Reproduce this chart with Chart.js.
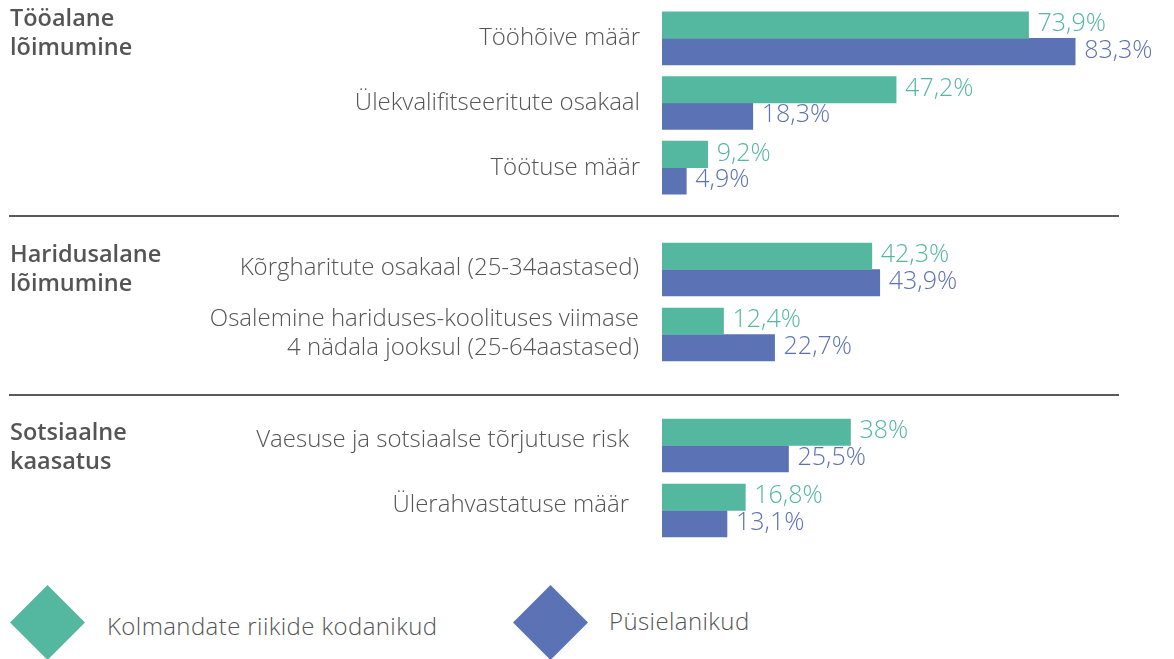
<!DOCTYPE html>
<html>
<head>
<meta charset="utf-8">
<script src="https://cdn.jsdelivr.net/npm/chart.js@4"></script>
<style>
  html, body { margin: 0; padding: 0; background: #fff; }
  #page { position: relative; width: 1174px; height: 659px; overflow: hidden; font-family: "Open Sans", "Noto Sans", sans-serif; }
  .chartBox { position: absolute; left: 0; width: 1174px; }
  .groupTitle { position: absolute; left: 10px; font-weight: 600; font-size: 23.5px; line-height: 29px; color: #555; }
  .sep { position: absolute; left: 9px; width: 1110px; height: 1.5px; background: #5a5a5a; }
  .legendItem { position: absolute; font-size: 24px; letter-spacing: 0.4px; font-weight: 300; color: #555; }
  .diamond { position: absolute; width: 53px; height: 53px; transform: rotate(45deg); }
</style>
</head>
<body>
<div id="page">
  <div class="chartBox" style="top:6px;height:194px"><canvas id="chart1"></canvas></div>
  <div class="chartBox" style="top:237px;height:130px"><canvas id="chart2"></canvas></div>
  <div class="chartBox" style="top:413px;height:130px"><canvas id="chart3"></canvas></div>
  <div class="sep" style="top:215px"></div>
  <div class="sep" style="top:394px"></div>
  <div id="titles"></div>
  <div id="legend"></div>
</div>
<script>
// Data
const seriesNames = ['Kolmandate riikide kodanikud', 'Püsielanikud'];
const seriesColors = ['#54b7a0', '#5b72b5'];

const groupTitles = [
    ['Tööalane', 'lõimumine'],
    ['Haridusalane', 'lõimumine'],
    ['Sotsiaalne', 'kaasatus']
];

const categories1 = ['Tööhõive määr', 'Ülekvalifitseeritute osakaal', 'Töötuse määr'];
const thirdCountry1 = [73.9, 47.2, 9.2];
const permanent1 = [83.3, 18.3, 4.9];

const categories2 = ['Kõrgharitute osakaal (25-34aastased)', ['Osalemine hariduses-koolituses viimase', '4 nädala jooksul (25-64aastased)']];
const thirdCountry2 = [42.3, 12.4];
const permanent2 = [43.9, 22.7];

const categories3 = ['Vaesuse ja sotsiaalse tõrjutuse risk', 'Ülerahvastatuse määr'];
const thirdCountry3 = [38, 16.8];
const permanent3 = [25.5, 13.1];

const FONT = '"Open Sans", "Noto Sans", sans-serif';

// Value labels at the end of each bar
const valueLabels = {
    id: 'valueLabels',
    afterDatasetsDraw(chart) {
        const ctx = chart.ctx;
        ctx.save();
        ctx.font = '300 25px ' + FONT;
        ctx.textBaseline = 'middle';
        ctx.textAlign = 'left';
        chart.data.datasets.forEach((ds, i) => {
            chart.getDatasetMeta(i).data.forEach((bar, j) => {
                ctx.fillStyle = ds.backgroundColor;
                ctx.fillText(String(ds.data[j]).replace('.', ',') + '%', bar.x + 9, bar.y - 1);
            });
        });
        ctx.restore();
    }
};

function makeChart(id, labels, third, perm, labelPad, labelShift) {
    return new Chart(document.getElementById(id), {
        type: 'bar',
        data: {
            labels: labels,
            datasets: [
                { label: seriesNames[0], data: third, backgroundColor: seriesColors[0] },
                { label: seriesNames[1], data: perm, backgroundColor: seriesColors[1] }
            ]
        },
        options: {
            indexAxis: 'y',
            responsive: true,
            maintainAspectRatio: false,
            animation: false,
            layout: { padding: { left: 0, top: 0, bottom: 0, right: 16 }, autoPadding: false },
            barThickness: 26.5,
            plugins: {
                legend: { display: false },
                tooltip: { enabled: false }
            },
            scales: {
                x: {
                    display: false,
                    min: 0,
                    max: 100
                },
                y: {
                    afterFit: function(scale) {
                        scale.width = 662;
                        scale.paddingTop = 0;
                        scale.paddingBottom = 0;
                    },
                    grid: { display: false },
                    border: { display: false },
                    ticks: {
                        color: '#555',
                        padding: labelPad,
                        labelOffset: labelShift,
                        font: { family: FONT, size: 24, weight: '300', lineHeight: 1.2 }
                    }
                }
            }
        },
        plugins: [valueLabels]
    });
}

makeChart('chart1', categories1, thirdCountry1, permanent1, 14, 0);
makeChart('chart2', categories2, thirdCountry2, permanent2, 15, -1);
makeChart('chart3', categories3, thirdCountry3, permanent3, 25, -5);

// Group titles
const titleTops = [3, 239, 417];
const titlesEl = document.getElementById('titles');
groupTitles.forEach((t, i) => {
    const d = document.createElement('div');
    d.className = 'groupTitle';
    d.style.top = titleTops[i] + 'px';
    d.innerHTML = t.join('<br>');
    titlesEl.appendChild(d);
});

// Legend
const legendEl = document.getElementById('legend');
const legendX = [10, 513];
seriesNames.forEach((name, i) => {
    const dm = document.createElement('div');
    dm.className = 'diamond';
    dm.style.left = (legendX[i] + 11) + 'px';
    dm.style.top = '596px';
    dm.style.background = seriesColors[i];
    legendEl.appendChild(dm);
    const tx = document.createElement('div');
    tx.className = 'legendItem';
    tx.style.left = (legendX[i] + (i === 0 ? 97 : 96)) + 'px';
    tx.style.top = (i === 0 ? 609 : 604) + 'px';
    tx.textContent = name;
    legendEl.appendChild(tx);
});
</script>
</body>
</html>
